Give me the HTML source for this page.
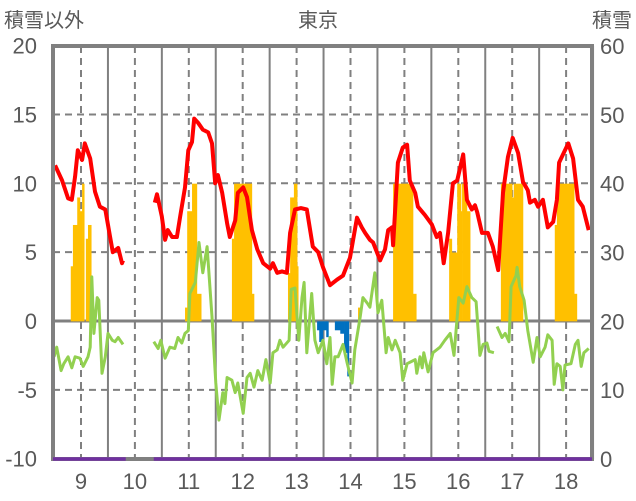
<!DOCTYPE html>
<html><head><meta charset="utf-8"><style>
body{margin:0;background:#fff;}
svg{display:block;font-family:"Liberation Sans","Noto Sans CJK JP",sans-serif;}
</style></head><body>
<svg id="chart" width="636" height="501" viewBox="0 0 636 501">
<g id="grid"></g><g id="bars"></g><g id="lines"></g><g id="frame"></g><g id="labels"></g>
</svg>
<script>
const redX=[8.52,8.65,8.76,8.83,8.89,8.94,9.02,9.07,9.17,9.26,9.35,9.45,9.54,9.59,9.69,9.76,9.78];
const redY=[11.3,10.2,8.9,8.8,10.5,12.4,11.7,12.9,11.8,9.4,8.3,8.1,6.1,5.0,5.3,4.2,4.4];
const red2X=[10.37,10.41,10.50,10.56,10.61,10.69,10.78,10.84,10.93,10.99,11.06,11.10,11.17,11.26,11.36,11.43,11.49,11.54,11.62,11.71,11.76,11.86,11.91,12.01,12.08,12.17,12.27,12.38,12.51,12.56,12.64,12.73,12.82,12.88,12.97,13.08,13.19,13.30,13.40,13.49,13.62,13.75,13.86,13.99,14.12,14.21,14.27,14.36,14.42,14.55,14.64,14.70,14.77,14.79,14.88,14.97,15.05,15.10,15.20,15.25,15.38,15.51,15.60,15.66,15.73,15.81,15.90,15.98,16.09,16.16,16.25,16.31,16.35,16.44,16.55,16.64,16.74,16.83,16.92,17.01,17.11,17.20,17.29,17.33,17.42,17.48,17.57,17.66,17.76,17.83,17.87,17.98,18.04,18.13,18.22,18.31,18.42];
const red2Y=[8.6,9.2,7.6,5.9,6.6,6.1,6.1,7.6,9.7,12.4,13.0,14.7,14.4,13.9,13.7,12.9,10.0,10.6,9.3,7.1,6.1,7.3,9.3,9.7,9.0,6.6,5.2,4.2,3.8,4.2,3.5,3.6,3.5,6.4,8.1,8.2,8.1,5.4,5.0,3.9,2.6,3.0,3.3,4.6,7.5,6.8,6.4,5.9,5.7,4.4,5.2,6.6,6.8,5.5,11.5,12.6,12.8,10.2,9.3,8.3,7.7,7.0,6.1,6.4,4.2,6.4,10.0,10.2,12.1,8.8,8.1,8.4,7.9,6.4,6.4,5.4,3.7,9.3,11.9,13.3,12.2,10.1,9.5,8.6,8.8,8.3,8.8,6.8,7.2,8.8,11.5,12.4,12.9,11.8,8.8,8.3,6.6];
const grnX=[8.50,8.55,8.63,8.68,8.76,8.83,8.89,8.98,9.04,9.13,9.17,9.20,9.24,9.30,9.33,9.39,9.45,9.50,9.58,9.63,9.69,9.78];
const grnY=[-2.6,-1.9,-3.6,-3.1,-2.6,-3.4,-2.6,-2.7,-3.3,-2.6,-1.9,3.2,-0.9,1.7,1.5,-3.8,-2.6,-0.9,-1.4,-1.5,-1.2,-1.7];
const grn2X=[10.35,10.43,10.48,10.56,10.65,10.74,10.80,10.87,10.93,10.99,11.02,11.12,11.19,11.26,11.34,11.43,11.50,11.56,11.63,11.67,11.71,11.80,11.86,11.91,12.01,12.08,12.14,12.21,12.28,12.36,12.43,12.51,12.56,12.64,12.69,12.75,12.86,12.90,12.97,13.04,13.10,13.14,13.19,13.28,13.34,13.40,13.49,13.56,13.62,13.66,13.71,13.77,13.86,13.94,14.03,14.08,14.18,14.23,14.31,14.36,14.45,14.51,14.58,14.66,14.70,14.77,14.83,14.92,14.97,15.05,15.20,15.23,15.29,15.33,15.36,15.44,15.53,15.66,15.75,15.85,15.92,16.01,16.09,16.16,16.25,16.33,16.40,16.46,16.53,16.57,16.66];
const grn2Y=[-1.5,-2.0,-1.4,-2.7,-1.9,-2.0,-1.2,-1.6,-0.9,-0.7,2.0,2.8,5.7,3.5,5.4,0.3,-4.5,-7.2,-5.2,-6.0,-4.1,-4.3,-5.2,-4.5,-6.7,-4.1,-3.8,-4.8,-3.6,-4.3,-2.8,-4.5,-2.3,-2.1,-1.4,-1.9,-1.4,2.3,2.4,-1.4,1.7,2.8,-2.3,2.0,-1.4,-2.3,-1.4,-3.1,-1.2,-4.6,-2.6,-2.6,-1.7,-3.1,-4.5,-2.1,0.3,1.7,1.3,1.0,3.5,0.6,1.5,-2.3,-1.2,-2.1,-1.4,-2.3,-4.3,-3.1,-2.8,-3.8,-2.6,-3.4,-2.3,-3.7,-2.3,-1.9,-1.4,-0.9,-2.5,1.7,1.3,2.5,1.7,1.4,-2.5,-1.7,-1.6,-2.2,-2.3];
const grn3X=[16.72,16.81,16.87,16.94,16.98,17.07,17.09,17.14,17.22,17.29,17.39,17.46,17.52,17.61,17.66,17.74,17.78,17.83,17.89,17.94,17.98,18.09,18.17,18.22,18.28,18.33,18.42];
const grn3Y=[-0.4,-1.2,-0.9,-1.5,2.5,3.3,3.9,2.5,1.5,-0.7,-3.0,-1.2,-2.6,-1.9,-1.0,-1.4,-4.6,-3.1,-3.3,-5.0,-3.2,-3.1,-1.7,-1.4,-3.3,-2.3,-2.0];
const snowStart=[8.81,8.85,8.93,8.98,9.02,9.09,9.13,10.93,10.97,11.06,11.15,11.80,11.84,12.17,12.84,12.88,12.95,13.01,14.14,14.79,15.16,15.83,15.88,15.98,16.05,16.07,16.16,16.79,17.00,17.03,17.79,17.83,18.15];
const snowEnd=[8.85,8.93,8.98,9.02,9.06,9.13,9.19,10.97,11.06,11.15,11.23,11.84,12.17,12.21,12.88,12.95,13.01,13.03,14.18,15.16,15.22,15.88,15.98,16.05,16.07,16.16,16.22,17.00,17.03,17.20,17.83,18.15,18.20];
const snowVal=[28,34,38,36,40,32,34,22,36,40,24,32,40,24,27,38,40,28,22,40,24,32,30,40,36,40,36,40,38,40,34,40,24];
const blueStart=[13.38,13.42,13.49,13.55,13.71,13.81,13.88,13.94];
const blueEnd=[13.42,13.49,13.55,13.59,13.81,13.88,13.94,13.97];
const blueVal=[18.7,17,18.7,17.7,18.7,18.2,15.4,12];
const leftTicks=[20,15,10,5,0,-5,-10];
const rightTicks=[60,50,40,30,20,10,0];
const yearTicks=[9,10,11,12,13,14,15,16,17,18];
const purpleSegs=[[8.48,9.83],[10.35,18.48]];

const NS="http://www.w3.org/2000/svg";
const X=y=>81+(y-9)*53.9;
const YL=v=>321-v*13.77;
const YR=v=>459-v*6.883;
function mk(tag,attrs,parent){const e=document.createElementNS(NS,tag);for(const k in attrs)e.setAttribute(k,attrs[k]);document.getElementById(parent).appendChild(e);return e;}
const L=53,R=592,T=46,B=459;
leftTicks.forEach(v=>{if(v===20||v===-10)return;
 const ln=mk('line',{x1:L,x2:R,y1:YL(v),y2:YL(v),stroke:'#808080','stroke-width':v===0?3:2,'stroke-dasharray':v===0?'':'7,5'},'grid');
 
 
});
yearTicks.forEach(yr=>{
 const d=mk('line',{x1:X(yr),x2:X(yr),y1:T,y2:B,stroke:'#808080','stroke-width':2,'stroke-dasharray':'7,5'},'grid');
 
 
 const s=mk('line',{x1:X(yr+0.5),x2:X(yr+0.5),y1:T,y2:B,stroke:'#808080','stroke-width':2},'grid');
 
 
 const t=mk('text',{x:X(yr),y:489,'text-anchor':'middle','font-size':22,fill:'#595959'},'labels');t.textContent=yr;
 
 
});
snowVal.forEach((v,i)=>{
 const r=mk('rect',{x:X(snowStart[i]),y:YR(v),width:X(snowEnd[i])-X(snowStart[i])+0.3,height:YR(20)-YR(v),fill:'#ffc000'},'bars');
 
 
});
blueVal.forEach((v,i)=>{
 const r=mk('rect',{x:X(blueStart[i]),y:YR(20),width:X(blueEnd[i])-X(blueStart[i])+0.3,height:YR(v)-YR(20),fill:'#0070c0'},'bars');
 
 
});
function poly(xs,ys,color,w,name){
 const p=mk('polyline',{points:xs.map((x,i)=>X(x).toFixed(1)+','+YL(ys[i]).toFixed(1)).join(' '),fill:'none',stroke:color,'stroke-width':w,'stroke-linejoin':'round'},'lines');
 
 
}
poly(grnX,grnY,'#92d050',3,'green-series');
poly(grn2X,grn2Y,'#92d050',3,'green-series');
poly(grn3X,grn3Y,'#92d050',3,'green-series');
poly(redX,redY,'#ff0000',4,'red-series');
poly(red2X,red2Y,'#ff0000',4,'red-series');
const fr=mk('rect',{x:L,y:T,width:R-L,height:B-T,fill:'none',stroke:'#808080','stroke-width':4},'frame');


purpleSegs.forEach(s=>{
 const p=mk('line',{x1:X(s[0]),x2:X(s[1]),y1:YR(0),y2:YR(0),stroke:'#7030a0','stroke-width':3.5},'frame');
 
 
});
leftTicks.forEach(v=>{
 const t=mk('text',{x:37,y:YL(v)+8,'text-anchor':'end','font-size':22,fill:'#595959'},'labels');t.textContent=v;
 
 
});
rightTicks.forEach(v=>{
 const t=mk('text',{x:600,y:YR(v)+8,'text-anchor':'start','font-size':22,fill:'#595959'},'labels');t.textContent=v;
 
 
});
</script>
<svg style="position:absolute;left:0;top:0" width="636" height="40">
<text x="4" y="27" font-size="20" fill="#595959" font-family="Liberation Sans, Noto Sans CJK JP, sans-serif">積雪以外</text>
<text x="318" y="27" font-size="20" fill="#595959" text-anchor="middle" font-family="Liberation Sans, Noto Sans CJK JP, sans-serif">東京</text>
<text x="632" y="27" font-size="20" fill="#595959" text-anchor="end" font-family="Liberation Sans, Noto Sans CJK JP, sans-serif">積雪</text>
</svg>
</body></html>
